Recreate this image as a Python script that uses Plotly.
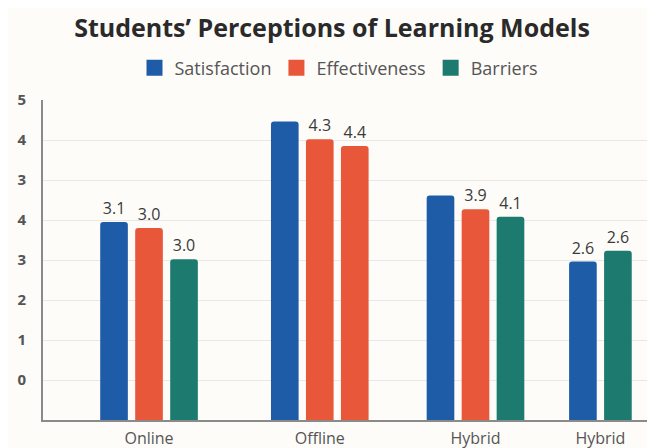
import plotly.graph_objects as go

# ---- data ----
categories = ["Online", "Offline", "Hybrid", "Hybrid"]
series_names = ["Satisfaction", "Effectiveness", "Barriers"]
# bar heights on the chart's own (gridline) scale
satisfaction = [4.95, 7.46, 5.61, 3.96]
effectiveness = [4.80, 7.02, 5.27, None]
barriers = [4.02, 6.85, 5.08, 4.23]
# value labels printed on the bars
satisfaction_labels = ["3.1", "", "", "2.6"]
effectiveness_labels = ["3.0", "4.3", "3.9", ""]
barriers_labels = ["3.0", "4.4", "4.1", "2.6"]
# y tick labels, bottom to top, as printed
y_tick_labels = ["0", "1", "2", "3", "4", "3", "4", "5"]

# ---- styling / layout constants ----
colors = {"Satisfaction": "#1f5ca8", "Effectiveness": "#e9573a", "Barriers": "#1c7a6f"}
barrier_colors = ["#1c7a6f", "#e9573a", "#1c7a6f", "#1c7a6f"]
group_x = [3.03, 7.91, 12.36, 15.93]
bar_width = 0.79
FONT = "Open Sans"
W, H = 647, 440  # page body has an 8px margin

values = [satisfaction, effectiveness, barriers]
labels = [satisfaction_labels, effectiveness_labels, barriers_labels]

# slot positions: present series in each group centred on group_x
positions = [[None] * len(categories) for _ in series_names]
for gi in range(len(categories)):
    present = [si for si in range(len(series_names)) if values[si][gi] is not None]
    n = len(present)
    for k, si in enumerate(present):
        positions[si][gi] = group_x[gi] + (k - (n - 1) / 2)

fig = go.Figure()
for si, name in enumerate(series_names):
    xs, ys, ts, cols = [], [], [], []
    for gi in range(len(categories)):
        if values[si][gi] is None:
            continue
        xs.append(positions[si][gi])
        ys.append(values[si][gi])
        ts.append(labels[si][gi])
        cols.append(barrier_colors[gi] if name == "Barriers" else colors[name])
    fig.add_trace(go.Bar(
        x=xs, y=ys, name=name, width=bar_width, showlegend=False,
        marker=dict(color=cols, cornerradius=3, line=dict(width=0)),
        text=ts, textposition="outside", cliponaxis=False,
        textfont=dict(family=FONT, size=16, color="#3a3a3a"),
    ))
    # legend entry with a square swatch
    fig.add_trace(go.Scatter(
        x=[None], y=[None], mode="markers", name=name,
        marker=dict(symbol="square", size=17, color=colors[name]),
    ))

fig.update_layout(
    width=W, height=H,
    paper_bgcolor="#fdfcf9", plot_bgcolor="#fdfcf9",
    margin=dict(l=35, r=0, t=92, b=28),
    barmode="overlay",
    showlegend=True,
    title=dict(text="<b>Students’ Perceptions of Learning Models</b>",
               x=324 / W, xref="container", xanchor="center",
               y=1 - 20 / H, yref="container", yanchor="middle",
               font=dict(family=FONT, size=25, color="#2a2a2a")),
    legend=dict(orientation="h", x=331 / W, xref="container", xanchor="center",
                y=1 - 60 / H, yref="container", yanchor="middle",
                font=dict(family=FONT, size=18, color="#555555"),
                itemwidth=30, traceorder="normal", bgcolor="rgba(0,0,0,0)"),
    xaxis=dict(range=[0, 17.49], tickmode="array", tickvals=group_x, ticktext=categories,
               showgrid=False, zeroline=False, showline=True, linecolor="#8a8a8a", linewidth=2,
               ticks="", ticklabelstandoff=3,
               tickfont=dict(family=FONT, size=16, color="#555555"), fixedrange=True),
    yaxis=dict(range=[0, 8], tickmode="array", tickvals=list(range(1, 9)), ticktext=y_tick_labels,
               showgrid=True, gridcolor="#e8e8e6", gridwidth=1, zeroline=False,
               showline=True, linecolor="#8a8a8a", linewidth=2, ticks="",
               ticklabelstandoff=12,
               tickfont=dict(family=FONT, size=15, color="#555555", weight="bold"), fixedrange=True),
)

fig.write_html("out.html")
